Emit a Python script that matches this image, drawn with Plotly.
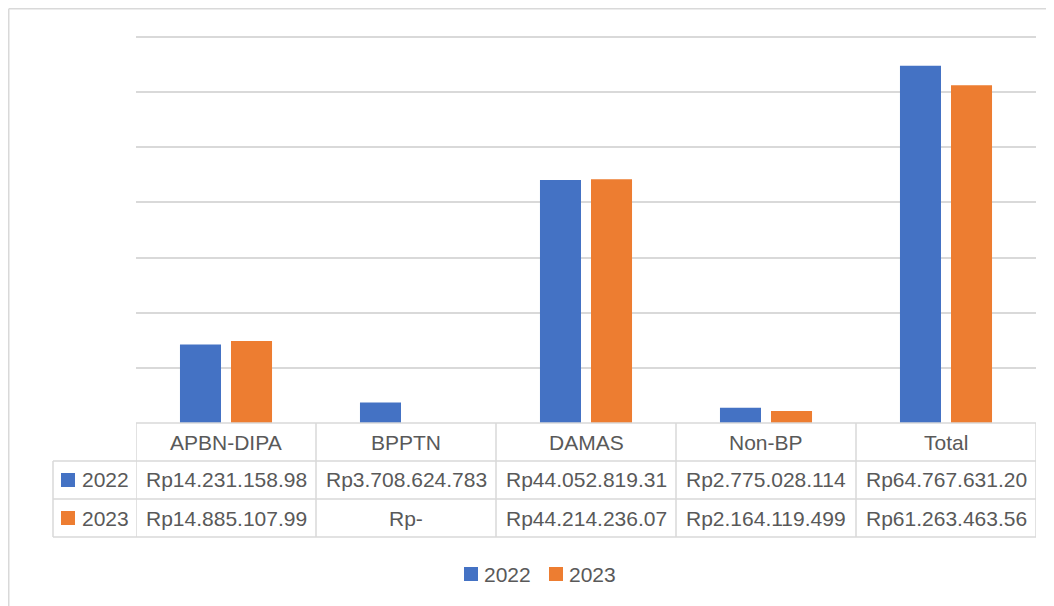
import plotly.graph_objects as go

# ---- data ----
categories = ["APBN-DIPA", "BPPTN", "DAMAS", "Non-BP", "Total"]
series_names = ["2022", "2023"]
values_2022 = [14.23115898, 3.708624783, 44.05281931, 2.775028114, 64.7676312]
values_2023 = [14.88510799, 0.0, 44.21423607, 2.164119499, 61.26346356]
labels_2022 = ["Rp14.231.158.98", "Rp3.708.624.783", "Rp44.052.819.31",
               "Rp2.775.028.114", "Rp64.767.631.20"]
labels_2023 = ["Rp14.885.107.99", "Rp-", "Rp44.214.236.07",
               "Rp2.164.119.499", "Rp61.263.463.56"]
colors = ["#4472C4", "#ED7D31"]

# ---- layout geometry (reference pixels; page body adds an 8px offset) ----
OFF = 8
W, H = 1054 - OFF, 606 - OFF
L, R, T, B = 136, 1036, 30, 423
PW, PH = R - L, B - T
ymax = 71.27
row_h = 38
table_left = 53
line_col = "#d9d9d9"
text_col = "#595959"
font_fam = "Liberation Sans, Arial, sans-serif"
fs = 21


def xp(px):
    return (px - L) / PW


def yp(py):
    return (B - py) / PH


fig = go.Figure()
for name, vals, col in zip(series_names, [values_2022, values_2023], colors):
    fig.add_trace(go.Bar(x=categories, y=vals, name=name, marker_color=col,
                         marker_line_width=0, showlegend=False))

shapes = []
annotations = []


def txt(x, y, s, xref="paper", xanchor="center"):
    return dict(x=x, y=y, xref=xref, yref="paper", text=s, showarrow=False,
                xanchor=xanchor, yanchor="middle",
                font=dict(size=fs, color=text_col, family=font_fam))


# outer chart frame (top and left edges visible)
shapes.append(dict(type="line", xref="paper", yref="paper", x0=xp(OFF + 0.75), x1=xp(1060),
                   y0=yp(OFF + 0.75), y1=yp(OFF + 0.75), line=dict(color=line_col, width=1.5)))
shapes.append(dict(type="line", xref="paper", yref="paper", x0=xp(OFF + 0.75), x1=xp(OFF + 0.75),
                   y0=yp(OFF + 0.75), y1=yp(620), line=dict(color=line_col, width=1.5)))

# table horizontal lines
row_tops = [B, B + row_h, B + 2 * row_h, B + 3 * row_h]
for i, ry in enumerate(row_tops):
    x0 = L if i == 0 else table_left
    shapes.append(dict(type="line", xref="paper", yref="paper", x0=xp(x0), x1=xp(R),
                       y0=yp(ry), y1=yp(ry), line=dict(color=line_col, width=1.5)))
# table vertical lines at category boundaries
n = len(categories)
for k in range(n + 1):
    shapes.append(dict(type="line", xref="x", yref="paper", x0=k - 0.5, x1=k - 0.5,
                       y0=yp(B), y1=yp(B + 3 * row_h),
                       line=dict(color=line_col, width=1.5)))
shapes.append(dict(type="line", xref="paper", yref="paper", x0=xp(table_left),
                   x1=xp(table_left), y0=yp(B + row_h), y1=yp(B + 3 * row_h),
                   line=dict(color=line_col, width=1.5)))

# category header labels
for k, c in enumerate(categories):
    annotations.append(txt(k, yp(B + row_h / 2), c, xref="x"))
# data rows
for r, (name, labs, col) in enumerate(zip(series_names, [labels_2022, labels_2023], colors)):
    cy = B + row_h * (r + 1) + row_h / 2
    for k, lab in enumerate(labs):
        annotations.append(txt(k, yp(cy), lab, xref="x"))
    # legend key in table
    shapes.append(dict(type="rect", xref="paper", yref="paper", x0=xp(61), x1=xp(75),
                       y0=yp(cy - 7), y1=yp(cy + 7), fillcolor=col, line=dict(width=0)))
    annotations.append(txt(xp(80), yp(cy), name, xanchor="left"))

# bottom legend
leg_y = 574
for name, col, sx in zip(series_names, colors, [464, 549]):
    shapes.append(dict(type="rect", xref="paper", yref="paper", x0=xp(sx), x1=xp(sx + 14),
                       y0=yp(leg_y - 7), y1=yp(leg_y + 7), fillcolor=col,
                       line=dict(width=0)))
    annotations.append(txt(xp(sx + 18), yp(leg_y), name, xanchor="left"))

fig.update_layout(
    width=W, height=H,
    margin=dict(l=L - OFF, r=W - (R - OFF), t=T - OFF, b=H - (B - OFF), pad=0),
    paper_bgcolor="white", plot_bgcolor="white",
    barmode="group", bargap=0.433, bargroupgap=0.196,
    shapes=shapes, annotations=annotations,
    font=dict(family=font_fam, color=text_col),
    xaxis=dict(range=[-0.5, n - 0.5], showticklabels=False, showgrid=False,
               zeroline=False, showline=False, ticks=""),
    yaxis=dict(range=[0, ymax], dtick=10, tick0=0, showticklabels=False,
               showgrid=True, gridcolor=line_col, gridwidth=1.5,
               zeroline=False, showline=False, ticks=""),
)

fig.write_html("out.html")
